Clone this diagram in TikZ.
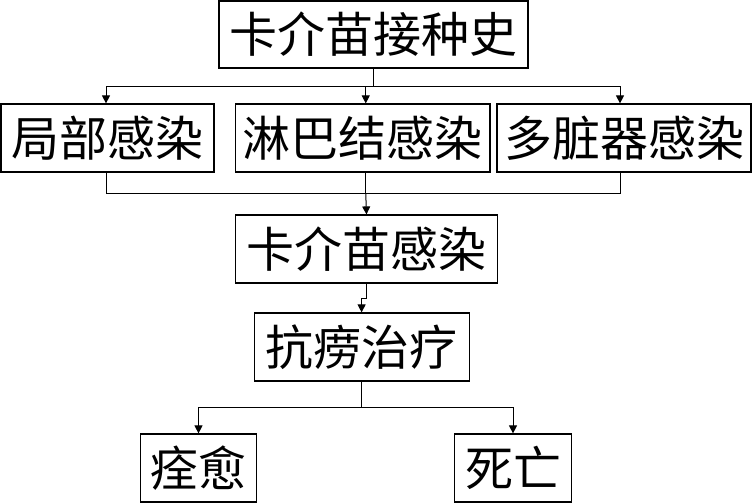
\documentclass[tikz,border=0pt]{standalone}
\usepackage{fontspec}
\newfontfamily\cjk{Noto Sans CJK SC}
\usetikzlibrary{arrows.meta}
\tikzset{
  box/.style={draw,line width=1.2pt,inner sep=0pt,minimum height=68pt,
    font=\cjk\fontsize{48}{48}\selectfont},
  link/.style={line width=1pt},
  arr/.style={link,-{Triangle[length=8pt,width=8pt]}}
}
\begin{document}
\begin{tikzpicture}[x=1pt,y=-1pt]
\useasboundingbox (0,0) rectangle (752,503);
% boxes
\node[box,minimum width=309pt,minimum height=67pt] (history) at (373.5,34.5) {卡介苗接种史};
\node[box,minimum width=213pt] (local) at (107.5,138) {局部感染};
\node[box,minimum width=254.5pt] (lymph) at (362.75,138) {淋巴结感染};
\node[box,minimum width=254pt] (organ) at (624,138) {多脏器感染};
\node[box,minimum width=262pt] (infect) at (366.5,249) {卡介苗感染};
\node[box,minimum width=215pt] (treat) at (361.6,347) {抗痨治疗};
\node[box,minimum width=116pt] (cure) at (198.5,468) {痊愈};
\node[box,minimum width=117pt] (death) at (513,468) {死亡};

% split after vaccination
\draw[link] (history.south) -- ++(0,18) coordinate (split1);
\draw[arr] (split1) -| ([xshift=-1.5pt]local.north);
\draw[arr] (split1) -| ([xshift=3pt]lymph.north);
\draw[arr] (split1) -| ([xshift=-4pt]organ.north);

% join into infection
\draw[link] ([xshift=3pt]lymph.south) -- ++(0,21) coordinate (join1);
\draw[link] ([xshift=-1.5pt]local.south) |- (join1);
\draw[link] ([xshift=-4pt]organ.south) |- (join1);
\draw[arr] (join1) -- (infect.north);

\draw[arr] (infect.south) -- ++(0,15) -| (treat.north);

% outcomes
\draw[link] (treat.south) -- ++(0,26) coordinate (split2);
\draw[arr] (split2) -| (cure.north);
\draw[arr] (split2) -| (death.north);
\end{tikzpicture}
\end{document}
